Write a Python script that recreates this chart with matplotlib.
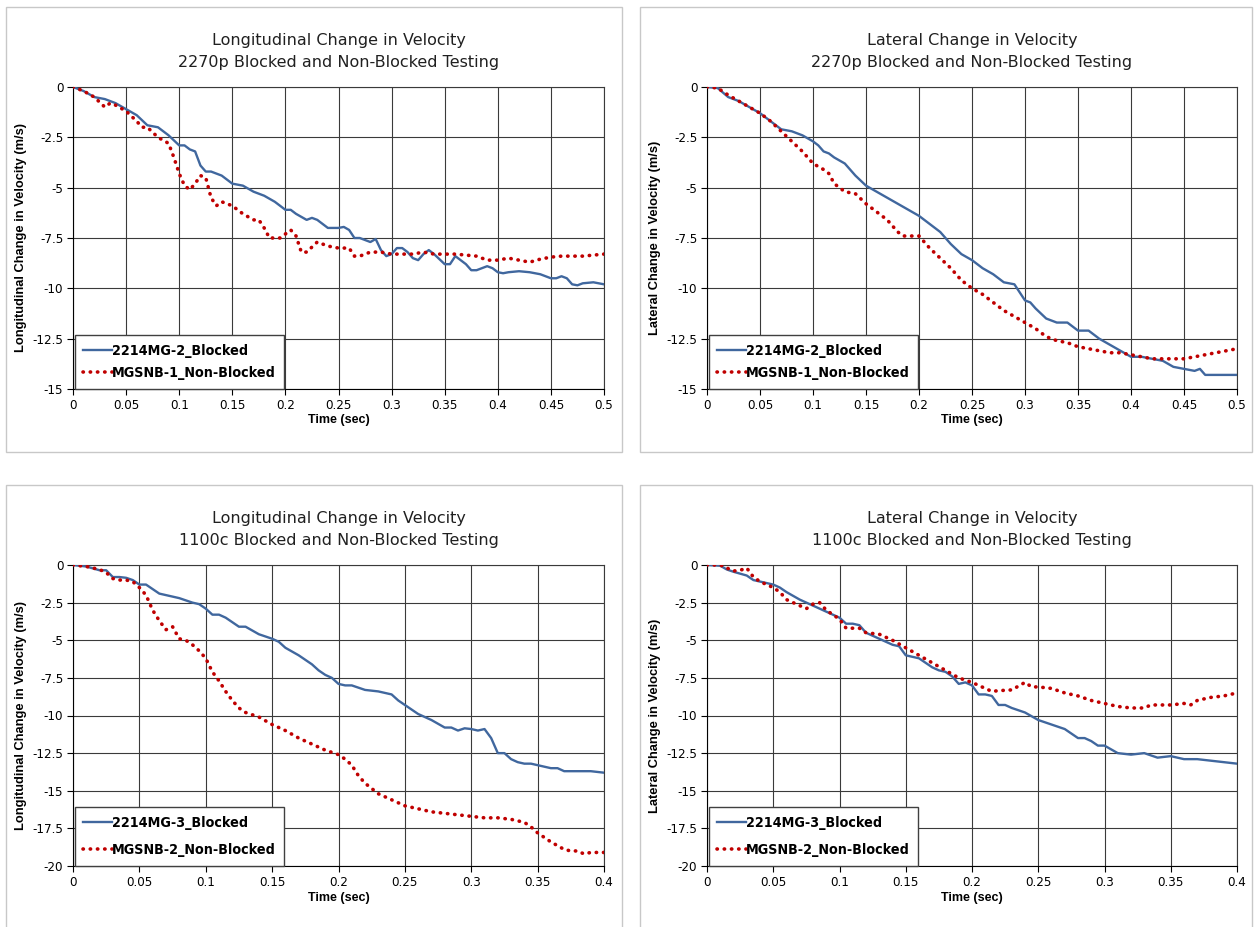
import matplotlib
matplotlib.use("Agg")
import matplotlib.pyplot as plt
from matplotlib.patches import Rectangle
from matplotlib import font_manager as fm

# --- data ---
# 2270p longitudinal
t_lon_p_b = [0, 0.01, 0.02, 0.03, 0.04, 0.05, 0.06, 0.07, 0.075, 0.08, 0.09, 0.1, 0.105, 0.11, 0.115,
             0.12, 0.125, 0.13, 0.14, 0.15, 0.16, 0.17, 0.18, 0.19, 0.2, 0.205, 0.21, 0.22, 0.225,
             0.23, 0.24, 0.25, 0.255, 0.26, 0.265, 0.27, 0.28, 0.285, 0.29, 0.295, 0.3, 0.305, 0.31,
             0.315, 0.32, 0.325, 0.33, 0.335, 0.34, 0.35, 0.355, 0.36, 0.37, 0.375, 0.38, 0.39, 0.395,
             0.4, 0.405, 0.41, 0.42, 0.43, 0.44, 0.45, 0.455, 0.46, 0.465, 0.47, 0.475, 0.48, 0.49, 0.5]
v_lon_p_b = [0, -0.2, -0.5, -0.6, -0.8, -1.1, -1.4, -1.9, -1.95, -2.0, -2.4, -2.9, -2.9, -3.1, -3.2,
             -3.9, -4.2, -4.2, -4.4, -4.8, -4.9, -5.2, -5.4, -5.7, -6.1, -6.1, -6.3, -6.6, -6.5,
             -6.6, -7.0, -7.0, -6.95, -7.1, -7.5, -7.5, -7.7, -7.55, -8.1, -8.4, -8.3, -8.0, -8.0,
             -8.2, -8.5, -8.6, -8.3, -8.1, -8.3, -8.8, -8.8, -8.4, -8.8, -9.1, -9.1, -8.9, -9.0,
             -9.2, -9.25, -9.2, -9.15, -9.2, -9.3, -9.5, -9.5, -9.4, -9.5, -9.8, -9.85, -9.75, -9.7, -9.8]
t_lon_p_n = [0, 0.005, 0.01, 0.02, 0.03, 0.035, 0.04, 0.05, 0.06, 0.065, 0.07, 0.08, 0.09, 0.095, 0.1,
             0.105, 0.11, 0.115, 0.12, 0.125, 0.13, 0.135, 0.14, 0.15, 0.16, 0.17, 0.175, 0.18, 0.185,
             0.19, 0.195, 0.2, 0.205, 0.21, 0.215, 0.22, 0.23, 0.24, 0.25, 0.26, 0.265, 0.27, 0.28,
             0.29, 0.3, 0.31, 0.32, 0.33, 0.34, 0.35, 0.36, 0.37, 0.38, 0.39, 0.4, 0.41, 0.42, 0.43,
             0.44, 0.45, 0.46, 0.47, 0.48, 0.49, 0.5]
v_lon_p_n = [0, -0.1, -0.2, -0.5, -1.0, -0.8, -0.9, -1.2, -1.7, -2.0, -2.0, -2.5, -2.8, -3.5, -4.3,
             -4.9, -5.1, -4.8, -4.4, -4.5, -5.5, -5.9, -5.7, -5.9, -6.3, -6.6, -6.6, -7.0, -7.5,
             -7.5, -7.5, -7.3, -7.1, -7.4, -8.2, -8.2, -7.7, -7.9, -8.0, -8.0, -8.4, -8.4, -8.2,
             -8.2, -8.3, -8.3, -8.3, -8.2, -8.3, -8.3, -8.3, -8.35, -8.4, -8.6, -8.6, -8.5, -8.6, -8.7,
             -8.55, -8.45, -8.4, -8.4, -8.4, -8.35, -8.3]

# 2270p lateral
t_lat_p_b = [0, 0.01, 0.02, 0.03, 0.04, 0.05, 0.06, 0.07, 0.08, 0.09, 0.1, 0.105, 0.11, 0.115, 0.12,
             0.13, 0.14, 0.15, 0.16, 0.17, 0.18, 0.19, 0.2, 0.21, 0.22, 0.23, 0.24, 0.25, 0.26, 0.27,
             0.28, 0.29, 0.3, 0.305, 0.31, 0.32, 0.33, 0.34, 0.35, 0.36, 0.37, 0.38, 0.39, 0.4, 0.41,
             0.42, 0.43, 0.44, 0.45, 0.46, 0.465, 0.47, 0.48, 0.49, 0.5]
v_lat_p_b = [0, -0.05, -0.5, -0.7, -1.0, -1.3, -1.7, -2.1, -2.2, -2.4, -2.7, -2.9, -3.2, -3.3, -3.5,
             -3.8, -4.4, -4.9, -5.2, -5.5, -5.8, -6.1, -6.4, -6.8, -7.2, -7.8, -8.3, -8.6, -9.0, -9.3,
             -9.7, -9.8, -10.6, -10.7, -11.0, -11.5, -11.7, -11.7, -12.1, -12.1, -12.5, -12.8, -13.1, -13.4, -13.4,
             -13.5, -13.6, -13.9, -14.0, -14.1, -14.0, -14.3, -14.3, -14.3, -14.3]
t_lat_p_n = [0, 0.01, 0.02, 0.03, 0.04, 0.05, 0.06, 0.07, 0.08, 0.09, 0.1, 0.11, 0.115, 0.12, 0.125,
             0.13, 0.14, 0.15, 0.16, 0.17, 0.18, 0.185, 0.19, 0.2, 0.21, 0.22, 0.23, 0.24, 0.25, 0.26,
             0.27, 0.28, 0.29, 0.3, 0.31, 0.32, 0.33, 0.34, 0.35, 0.36, 0.37, 0.38, 0.39, 0.4, 0.41,
             0.42, 0.43, 0.44, 0.45, 0.46, 0.47, 0.48, 0.49, 0.5]
v_lat_p_n = [0, -0.05, -0.4, -0.7, -1.0, -1.3, -1.7, -2.2, -2.7, -3.2, -3.8, -4.1, -4.3, -4.8, -5.0,
             -5.2, -5.3, -5.8, -6.2, -6.6, -7.2, -7.4, -7.4, -7.4, -8.0, -8.5, -9.0, -9.6, -10.0, -10.3,
             -10.7, -11.1, -11.4, -11.7, -12.0, -12.4, -12.6, -12.7, -12.9, -13.0, -13.1, -13.2, -13.2, -13.3, -13.4,
             -13.5, -13.5, -13.5, -13.5, -13.4, -13.3, -13.2, -13.1, -13.0]

# 1100c longitudinal
t_lon_c_b = [0, 0.01, 0.02, 0.025, 0.03, 0.035, 0.04, 0.045, 0.05, 0.055, 0.06, 0.065, 0.07, 0.08, 0.09,
             0.095, 0.1, 0.105, 0.11, 0.115, 0.12, 0.125, 0.13, 0.14, 0.15, 0.155, 0.16, 0.17, 0.175,
             0.18, 0.185, 0.19, 0.195, 0.2, 0.205, 0.21, 0.22, 0.23, 0.24, 0.245, 0.25, 0.26, 0.265,
             0.27, 0.28, 0.285, 0.29, 0.295, 0.3, 0.305, 0.31, 0.315, 0.32, 0.325, 0.33, 0.335, 0.34,
             0.345, 0.35, 0.36, 0.365, 0.37, 0.38, 0.39, 0.4]
v_lon_c_b = [0, -0.1, -0.35, -0.35, -0.8, -0.8, -0.85, -1.0, -1.3, -1.3, -1.6, -1.9, -2.0, -2.2, -2.5,
             -2.6, -2.9, -3.3, -3.3, -3.5, -3.8, -4.1, -4.1, -4.6, -4.9, -5.1, -5.5, -6.0, -6.3,
             -6.6, -7.0, -7.3, -7.5, -7.9, -8.0, -8.0, -8.3, -8.4, -8.6, -9.0, -9.3, -9.9, -10.1,
             -10.3, -10.8, -10.8, -11.0, -10.85, -10.9, -11.0, -10.9, -11.5, -12.5, -12.5, -12.9, -13.1, -13.2,
             -13.2, -13.3, -13.5, -13.5, -13.7, -13.7, -13.7, -13.8]
t_lon_c_n = [0, 0.01, 0.02, 0.025, 0.03, 0.035, 0.04, 0.045, 0.05, 0.055, 0.06, 0.065, 0.07, 0.075, 0.08,
             0.085, 0.09, 0.095, 0.1, 0.105, 0.11, 0.115, 0.12, 0.125, 0.13, 0.14, 0.15, 0.16, 0.17,
             0.18, 0.19, 0.2, 0.205, 0.21, 0.215, 0.22, 0.23, 0.24, 0.25, 0.26, 0.27, 0.28, 0.29,
             0.3, 0.31, 0.32, 0.33, 0.34, 0.345, 0.35, 0.36, 0.37, 0.375, 0.38, 0.385, 0.39, 0.4]
v_lon_c_n = [0, -0.1, -0.3, -0.5, -0.9, -1.0, -1.0, -1.1, -1.5, -2.0, -3.0, -3.7, -4.3, -4.1, -4.9,
             -5.0, -5.3, -5.7, -6.2, -7.1, -7.7, -8.4, -9.0, -9.5, -9.8, -10.1, -10.6, -11.0, -11.5,
             -11.9, -12.3, -12.6, -12.9, -13.3, -14.0, -14.5, -15.2, -15.6, -16.0, -16.2, -16.4, -16.5, -16.6,
             -16.7, -16.8, -16.8, -16.9, -17.1, -17.4, -17.8, -18.4, -18.9, -19.0, -19.0, -19.2, -19.1, -19.1]

# 1100c lateral
t_lat_c_b = [0, 0.01, 0.015, 0.02, 0.03, 0.035, 0.04, 0.05, 0.055, 0.06, 0.07, 0.08, 0.09, 0.1, 0.105,
             0.11, 0.115, 0.12, 0.13, 0.14, 0.145, 0.15, 0.155, 0.16, 0.17, 0.175, 0.18, 0.185, 0.19,
             0.195, 0.2, 0.205, 0.21, 0.215, 0.22, 0.225, 0.23, 0.24, 0.25, 0.26, 0.27, 0.28, 0.285,
             0.29, 0.295, 0.3, 0.31, 0.32, 0.33, 0.34, 0.35, 0.36, 0.37, 0.38, 0.39, 0.4]
v_lat_c_b = [0, -0.05, -0.3, -0.45, -0.7, -1.0, -1.1, -1.3, -1.5, -1.8, -2.3, -2.7, -3.1, -3.5, -3.9,
             -3.9, -4.0, -4.5, -4.9, -5.3, -5.4, -6.0, -6.1, -6.2, -6.8, -7.0, -7.1, -7.4, -7.9,
             -7.8, -8.0, -8.6, -8.6, -8.7, -9.3, -9.3, -9.5, -9.8, -10.3, -10.6, -10.9, -11.5, -11.5,
             -11.7, -12.0, -12.0, -12.5, -12.6, -12.5, -12.8, -12.7, -12.9, -12.9, -13.0, -13.1, -13.2]
t_lat_c_n = [0, 0.01, 0.015, 0.02, 0.025, 0.03, 0.035, 0.04, 0.05, 0.055, 0.06, 0.07, 0.075, 0.08, 0.085,
             0.09, 0.1, 0.105, 0.11, 0.115, 0.12, 0.13, 0.14, 0.15, 0.16, 0.17, 0.18, 0.19, 0.2,
             0.21, 0.215, 0.22, 0.23, 0.24, 0.245, 0.25, 0.26, 0.27, 0.28, 0.29, 0.3, 0.31, 0.32,
             0.33, 0.335, 0.34, 0.35, 0.36, 0.365, 0.37, 0.38, 0.39, 0.4]
v_lat_c_n = [0, 0, -0.2, -0.4, -0.35, -0.2, -0.8, -1.1, -1.5, -1.8, -2.3, -2.7, -2.9, -2.6, -2.5,
             -3.0, -3.6, -4.2, -4.2, -4.2, -4.5, -4.6, -5.0, -5.5, -6.0, -6.5, -7.0, -7.5, -7.8,
             -8.2, -8.4, -8.35, -8.3, -7.8, -8.1, -8.1, -8.2, -8.5, -8.7, -9.0, -9.2, -9.4, -9.5,
             -9.5, -9.3, -9.3, -9.3, -9.2, -9.3, -9.0, -8.8, -8.7, -8.5]

panels = [
    dict(title="Longitudinal Change in Velocity\n2270p Blocked and Non-Blocked Testing",
         ylabel="Longitudinal Change in Velocity (m/s)",
         tb=t_lon_p_b, vb=v_lon_p_b, tn=t_lon_p_n, vn=v_lon_p_n,
         lb="2214MG-2_Blocked", ln="MGSNB-1_Non-Blocked",
         xmax=0.5, ymin=-15, ytick=2.5),
    dict(title="Lateral Change in Velocity\n2270p Blocked and Non-Blocked Testing",
         ylabel="Lateral Change in Velocity (m/s)",
         tb=t_lat_p_b, vb=v_lat_p_b, tn=t_lat_p_n, vn=v_lat_p_n,
         lb="2214MG-2_Blocked", ln="MGSNB-1_Non-Blocked",
         xmax=0.5, ymin=-15, ytick=2.5),
    dict(title="Longitudinal Change in Velocity\n1100c Blocked and Non-Blocked Testing",
         ylabel="Longitudinal Change in Velocity (m/s)",
         tb=t_lon_c_b, vb=v_lon_c_b, tn=t_lon_c_n, vn=v_lon_c_n,
         lb="2214MG-3_Blocked", ln="MGSNB-2_Non-Blocked",
         xmax=0.4, ymin=-20, ytick=2.5),
    dict(title="Lateral Change in Velocity\n1100c Blocked and Non-Blocked Testing",
         ylabel="Lateral Change in Velocity (m/s)",
         tb=t_lat_c_b, vb=v_lat_c_b, tn=t_lat_c_n, vn=v_lat_c_n,
         lb="2214MG-3_Blocked", ln="MGSNB-2_Non-Blocked",
         xmax=0.4, ymin=-20, ytick=2.5),
]


# --- pick a narrow font if one is around (Calibri / Arial Narrow look) ---
def narrow_font(weight, size):
    for fam, stretch in [("Liberation Sans Narrow", "normal"), ("DejaVu Sans", "condensed")]:
        fp = fm.FontProperties(family=fam, stretch=stretch, weight=weight)
        try:
            path = fm.findfont(fp, fallback_to_default=False)
        except Exception:
            continue
        if "Narrow" in path or "Condensed" in path:
            return fm.FontProperties(fname=path, size=size)
    return None


leg_fp = narrow_font("bold", 10.3)
tick_fp = narrow_font("normal", 9.5)
if leg_fp is None:
    leg_fp = fm.FontProperties(family="Liberation Sans", weight="bold", size=9.6)
if tick_fp is None:
    tick_fp = fm.FontProperties(family="Liberation Sans", size=8.5)

W, H = 1254, 927
fig = plt.figure(figsize=(W / 100, H / 100), dpi=100)

# pixel boxes: axes (left, top, right, bottom) and outer chart frame
ax_boxes = [(73, 87, 604, 389), (707, 87, 1237, 389), (73, 565, 604, 866), (707, 565, 1237, 866)]
frames = [(6, 7, 622, 452), (640, 7, 1252, 452), (6, 485, 622, 940), (640, 485, 1252, 940)]
spacing = [0.6, 0.6, 0.95, 0.95]

blue = "#40679E"
red = "#C00000"
grid_c = "#3a3a3a"

for i, p in enumerate(panels):
    fl, ft, fr, fb = frames[i]
    fig.patches.append(Rectangle((fl / W, 1 - fb / H), (fr - fl) / W, (fb - ft) / H,
                                 transform=fig.transFigure, fill=False,
                                 edgecolor="#C8C8C8", lw=1.0))
    l, t, r, b = ax_boxes[i]
    ax = fig.add_axes([l / W, 1 - b / H, (r - l) / W, (b - t) / H])

    ax.plot(p["tb"], p["vb"], color=blue, lw=1.7, label=p["lb"], zorder=3)
    ax.plot(p["tn"], p["vn"], color=red, lw=2.6, linestyle=(0, (0.1, 1.9)),
            dash_capstyle="round", label=p["ln"], zorder=3)

    ax.set_xlim(0, p["xmax"])
    ax.set_ylim(p["ymin"], 0)
    n_x = int(round(p["xmax"] / 0.05))
    xt = [k * 0.05 for k in range(n_x + 1)]
    ax.set_xticks(xt)
    ax.set_xticklabels(["%g" % round(v, 2) for v in xt])
    n_y = int(round(-p["ymin"] / p["ytick"]))
    yt = [-k * p["ytick"] for k in range(n_y + 1)]
    ax.set_yticks(yt)
    ax.set_yticklabels(["%g" % v for v in yt])
    ax.grid(True, color=grid_c, lw=0.8)
    ax.set_axisbelow(True)
    for s in ax.spines.values():
        s.set_color(grid_c)
        s.set_linewidth(0.8)
    ax.spines["left"].set_color("black")
    ax.spines["bottom"].set_color("black")
    ax.tick_params(direction="out", length=4, width=0.8, colors="black", pad=3)
    for lab in ax.get_xticklabels() + ax.get_yticklabels():
        lab.set_fontproperties(tick_fp)

    ax.set_xlabel("Time (sec)", family="Liberation Sans", fontweight="bold", fontsize=9, labelpad=2)
    ax.set_ylabel(p["ylabel"], family="Liberation Sans", fontweight="bold", fontsize=9.3, labelpad=4)

    l1, l2 = p["title"].split("\n")
    cx = (l + r) / 2 / W
    fig.text(cx, 1 - (ft + 34) / H, l1, ha="center", va="center", fontsize=11.5,
             family="DejaVu Sans", color="#202020")
    fig.text(cx, 1 - (ft + 56) / H, l2, ha="center", va="center", fontsize=11.5,
             family="DejaVu Sans", color="#202020")

    leg = ax.legend(loc="lower left", bbox_to_anchor=(0.003, 0.0), borderaxespad=0,
                    fancybox=False, framealpha=1, edgecolor="#404040",
                    prop=leg_fp,
                    handlelength=2.0, handletextpad=0.0, labelspacing=spacing[i],
                    borderpad=0.6)
    leg.get_frame().set_linewidth(1.0)
    leg.set_zorder(5)

fig.savefig("out.png", dpi=100, facecolor="white")
